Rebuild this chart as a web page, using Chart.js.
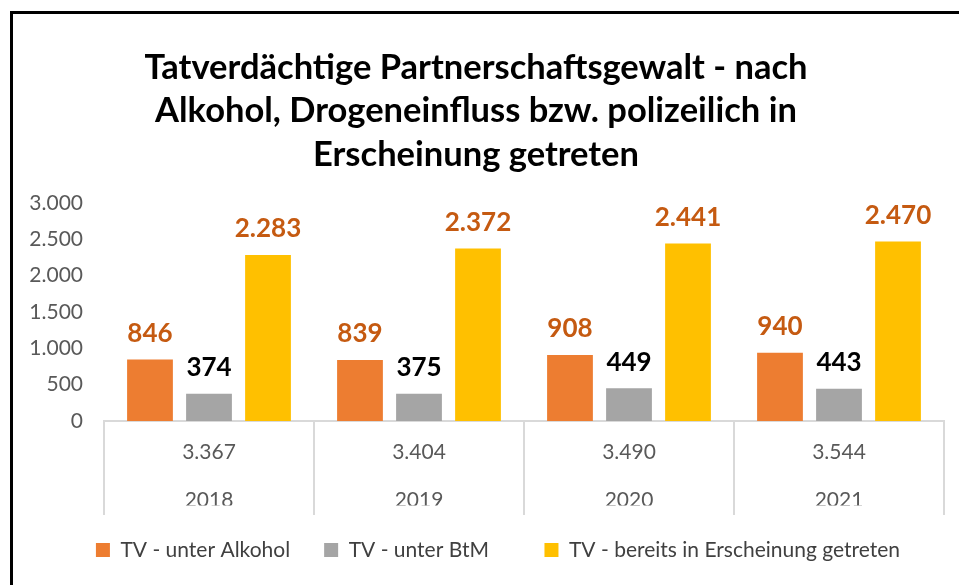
<!DOCTYPE html>
<html>
<head>
<meta charset="utf-8">
<script src="https://cdn.jsdelivr.net/npm/chart.js@4"></script>
<style>
  html, body { margin:0; padding:0; background:#fff; }
  body { width:959px; height:585px; overflow:hidden; position:relative; }
  #frame { position:absolute; left:10px; top:11px; right:0; bottom:0;
           border-left:3px solid #000; border-top:3px solid #000; }
  #wrap { position:absolute; left:0; top:0; width:946px; height:571px; }
</style>
</head>
<body>
<div id="frame"><div id="wrap"><canvas id="chart"></canvas></div></div>
<script>
// ── Daten ────────────────────────────────────────────────────────────────
const YEARS   = ["2018", "2019", "2020", "2021"];
const TOTALS  = [3367, 3404, 3490, 3544];
const ALKOHOL = [846, 839, 908, 940];
const BTM     = [374, 375, 449, 443];
const BEREITS = [2283, 2372, 2441, 2470];
const Y_TICKS = [0, 500, 1000, 1500, 2000, 2500, 3000];

const FONT = "Lato, 'Open Sans', sans-serif";
const LEGEND_SLOT = 220;   // Excel gives every legend entry the same slot width
const fmt = n => String(n).replace(/\B(?=(\d{3})+(?!\d))/g, ".");

// value labels above the bars
const barLabels = {
  id: "barLabels",
  afterDatasetsDraw(chart){
    const { ctx } = chart;
    chart.data.datasets.forEach((ds, di) => {
      const meta = chart.getDatasetMeta(di);
      ctx.save();
      ctx.font = `bold 26px ${FONT}`;
      ctx.fillStyle = ds.labelColor;
      ctx.textAlign = "center";
      ctx.textBaseline = "middle";
      meta.data.forEach((bar, i) => ctx.fillText(fmt(ds.data[i]), bar.x, bar.y - 26));
      ctx.restore();
    });
  }
};

// title centred a bit left of the canvas, legend a bit right, like the original
const nudge = {
  id: "nudge",
  afterLayout(chart){
    chart.titleBlock.left -= 10; chart.titleBlock.right -= 10;
    chart.legend.left += 12; chart.legend.right += 12;
  }
};

new Chart(document.getElementById("chart"), {
  type: "bar",
  data: {
    labels: YEARS.map((y, i) => [fmt(TOTALS[i]), y]),
    datasets: [
      { label:"TV - unter Alkohol", data:ALKOHOL, backgroundColor:"#ED7D31", labelColor:"#C55A11" },
      { label:"TV - unter BtM", data:BTM, backgroundColor:"#A5A5A5", labelColor:"#000000" },
      { label:"TV - bereits in Erscheinung getreten", data:BEREITS, backgroundColor:"#FFC000", labelColor:"#C55A11" },
    ],
  },
  options: {
    responsive: true, maintainAspectRatio: false, animation: false,
    categoryPercentage: 0.843, barPercentage: 0.776,
    layout: { padding: { left: 15, right: 15, bottom: 14.5 } },
    scales: {
      x: {
        grid: { offset: true, drawOnChartArea: false, tickLength: 94, color: "#d9d9d9", lineWidth: 2 },
        border: { display: true, color: "#d9d9d9", width: 2 },
        ticks: { color: "#595959", padding: -86, font: { family: FONT, size: 21, lineHeight: 2.25 } },
        afterFit: s => { s.height = 84.5; },
      },
      y: {
        min: 0, max: 3000,
        afterBuildTicks: s => { s.ticks = Y_TICKS.map(v => ({ value: v })); },
        grid: { display: false, drawTicks: false },
        border: { display: false },
        ticks: { color: "#595959", padding: 21, font: { family: FONT, size: 21 }, callback: v => fmt(v) },
        afterFit: s => { s.width = 76; },
      },
    },
    plugins: {
      title: {
        display: true,
        text: ["Tatverdächtige Partnerschaftsgewalt - nach",
               "Alkohol, Drogeneinfluss bzw. polizeilich in",
               "Erscheinung getreten"],
        color: "#000", font: { family: FONT, size: 34.5, weight: "bold", lineHeight: 1.26 },
        padding: { top: 32, bottom: 26.5 },
      },
      legend: {
        position: "bottom",
        labels: {
          color: "#404040", boxWidth: 14, boxHeight: 14, padding: 34,
          font: { family: FONT, size: 21 },
          generateLabels(chart){
            const items = Chart.defaults.plugins.legend.labels.generateLabels(chart);
            const ctx = chart.ctx;
            ctx.save();
            ctx.font = `21px ${FONT}`;
            items.forEach((it, i) => {
              if (i === items.length - 1) return;
              while (14 + 10.5 + ctx.measureText(it.text).width + 34 < LEGEND_SLOT) it.text += " ";
            });
            ctx.restore();
            return items;
          },
        },
      },
      tooltip: { enabled: false },
    },
  },
  plugins: [barLabels, nudge],
});
</script>
</body>
</html>
